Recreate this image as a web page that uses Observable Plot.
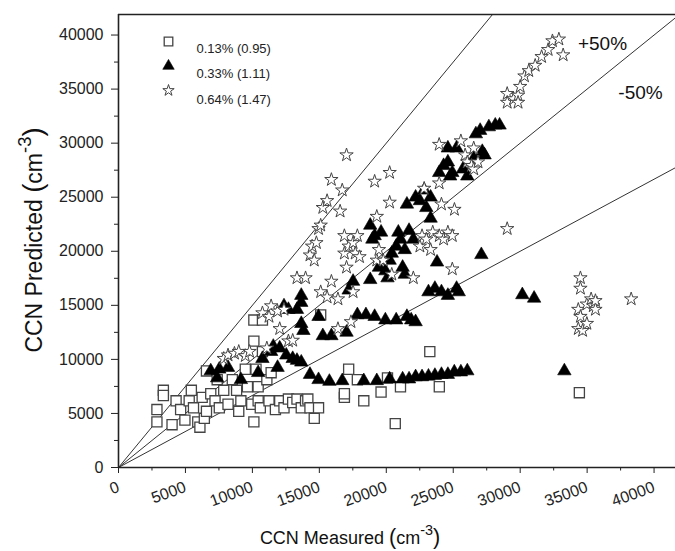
<!DOCTYPE html>
<html><head><meta charset="utf-8">
<script src="https://cdn.jsdelivr.net/npm/d3@7"></script>
<script src="https://cdn.jsdelivr.net/npm/@observablehq/plot@0.6"></script>
<style>body{margin:0;background:#fff;} #chart svg{display:block;}</style>
</head><body><div id="chart"></div>
<script>
// ---- data (CCN measured, CCN predicted) ----
const squares = [[2870,5360],[2870,4220],[3350,7140],[3350,6660],[4000,3960],[4300,6170],[4640,5360],[4960,4380],[5280,6170],[5440,7140],[5600,5520],[5920,4220],[6080,3730],[6250,6490],[6410,4550],[6570,5200],[6890,6820],[6570,8930],[7210,6170],[7370,8120],[7530,5520],[7860,7140],[8180,5850],[8500,8120],[8820,7140],[8980,5200],[9140,6170],[9470,9090],[9630,7470],[9950,5850],[10110,4220],[10110,13640],[10110,11690],[10270,9090],[10430,7470],[10430,6170],[10590,5520],[10750,10720],[10750,13640],[11080,8120],[11240,6170],[11400,8770],[11720,5360],[12040,6170],[12360,5520],[12690,6330],[13010,6010],[13330,6330],[13650,5520],[13970,6170],[14140,6330],[14300,5520],[14620,4550],[14940,5520],[15100,14120],[16870,6490],[16870,6820],[17190,9090],[17840,8120],[18320,6170],[19610,6980],[20090,8280],[20670,4060],[21060,7470],[23250,10720],[23960,7470],[34420,6920]];
const triangles = [[14300,8600],[14940,8120],[15750,7960],[16710,8020],[18320,8020],[19290,8020],[20250,8180],[21220,8180],[21700,8180],[22190,8380],[22670,8380],[23150,8440],[23630,8510],[24120,8600],[24600,8600],[25080,8830],[25570,8830],[26050,8930],[33300,8930],[7370,8280],[6890,8930],[7530,9090],[8180,9250],[9140,8120],[10430,8770],[10750,10070],[11400,10720],[11880,9250],[12040,11040],[12530,10390],[13010,10070],[13650,9740],[13330,9900],[11560,11200],[12360,14940],[12690,14610],[13330,14610],[13650,15260],[13650,13310],[13810,12660],[13650,15910],[14940,13960],[15260,12180],[15900,12180],[17030,12500],[17190,16400],[17520,17210],[17840,14120],[18480,14120],[19130,13960],[19930,13640],[20740,13640],[21540,13960],[21860,13640],[22190,13470],[18800,17370],[18800,22400],[18960,21110],[19130,21430],[19610,21760],[19450,18510],[19930,18180],[20090,17530],[20250,19160],[20410,19810],[20740,20460],[20900,21760],[21060,21110],[21380,20140],[21540,24350],[21220,18510],[21380,17860],[21700,21920],[22020,21110],[22190,25000],[22510,24670],[22830,25650],[22990,24030],[23310,25000],[23310,23050],[23790,18990],[23150,16240],[23630,16560],[24120,16240],[24600,15910],[25250,16560],[25410,16240],[23950,27270],[24280,27920],[24600,28250],[24770,26950],[24930,27270],[24600,29540],[25250,29540],[25730,27600],[26050,26950],[26530,28570],[26690,30850],[27010,31170],[27170,29220],[27340,28900],[27660,31500],[28140,31660],[28460,31660],[27100,19680],[30160,15970],[31040,15650]];
const stars = [[7860,10070],[8180,10390],[8660,10550],[8980,10720],[9470,10330],[9790,10720],[11080,11040],[10750,14290],[11240,13960],[11400,14940],[11880,14450],[12360,14610],[12040,12830],[12690,11690],[13010,11750],[13330,17530],[13970,17530],[14300,19640],[14460,20460],[14620,19160],[14780,20780],[14940,22080],[15100,22400],[15260,24030],[15580,24670],[15900,26620],[16550,23700],[16710,25650],[17030,28900],[15100,16240],[15580,15750],[15900,17210],[16390,15580],[16870,21430],[16870,19810],[17030,18510],[17190,20460],[17520,20780],[17680,19810],[17840,21430],[18000,19480],[17520,16240],[17360,13470],[16390,12830],[19130,26460],[19290,23210],[19290,19160],[19450,20140],[19770,19160],[20250,27270],[20250,24520],[20410,17860],[22020,17530],[22510,20460],[22670,21430],[22990,21110],[23310,20140],[23470,21760],[23960,21430],[24280,21110],[24600,21760],[24930,21430],[22830,25810],[23950,26300],[24120,24350],[25090,23860],[24930,18350],[23950,29870],[25570,30200],[25890,28900],[26050,28250],[26370,27920],[26530,27600],[26850,28250],[26530,29540],[29030,22080],[29030,34580],[29030,33760],[29510,34090],[29840,34420],[29840,33760],[30000,35230],[30320,36200],[30640,36690],[31120,37180],[31600,37990],[32090,38640],[32410,39450],[32890,39610],[33210,38150],[34500,17530],[34500,16560],[34340,14610],[34500,13960],[34340,12830],[34660,12660],[34980,13310],[34980,15100],[35300,15580],[35460,14940],[35620,14610],[35620,15420],[38290,15580]];
const legendLabels = ["0.13% (0.95)", "0.33% (1.11)", "0.64% (1.47)"];
const refSlopes = [1.5, 1, 2/3];
const refLabels = ["+50%", "-50%"];
const xTicks = [0,5000,10000,15000,20000,25000,30000,35000,40000];
const yTicks = [0,5000,10000,15000,20000,25000,30000,35000,40000];
const xMinor = [2500,7500,12500,17500,22500,27500,32500,37500];
const yMinor = [2500,7500,12500,17500,22500,27500,32500,37500];
const xMax = 41600, yMax = 41900;

const sqStyle = {symbol: "square", r: 5.7, fill: "white", stroke: "#444", strokeWidth: 1.3};
const trStyle = {symbol: "triangle", r: 5, fill: "black", stroke: "black", strokeWidth: 0.6};
const stStyle = {symbol: "star", r: 4.2, fill: "white", stroke: "#444", strokeWidth: 1};
const styles = [sqStyle, trStyle, stStyle];

const refLines = refSlopes.map(s => {
  const x2 = Math.min(xMax, yMax / s);
  return {x2, y2: s * x2};
});
const fmt = d => String(d);

const chart = Plot.plot({
  width: 675, height: 551,
  marginLeft: 118, marginTop: 14, marginBottom: 84, marginRight: 0,
  x: {domain: [0, xMax]},
  y: {domain: [0, yMax]},
  style: {fontFamily: "'Liberation Sans', Arial, sans-serif", color: "#111", background: "white", overflow: "visible"},
  marks: [
    Plot.link(refLines, {x1: 0, y1: 0, x2: "x2", y2: "y2", stroke: "#333", strokeWidth: 1}),
    Plot.dot(squares, {x: d => d[0], y: d => d[1], ...sqStyle}),
    Plot.dot(triangles, {x: d => d[0], y: d => d[1], ...trStyle}),
    Plot.dot(stars, {x: d => d[0], y: d => d[1], ...stStyle}),
    Plot.ruleX([0], {stroke: "#222", strokeWidth: 1.6}),
    Plot.ruleY([0, yMax], {stroke: "#222", strokeWidth: 1.6}),
    Plot.axisX(xTicks, {tickSize: 6, tickRotate: -20, tickPadding: 13, fontSize: 16, tickFormat: fmt, label: null, stroke: "#222", fill: "#222"}),
    Plot.axisX(xMinor, {tickSize: 3.5, fill: "none", label: null, stroke: "#222"}),
    Plot.axisY(yTicks, {tickSize: 7, tickPadding: 8, fontSize: 16, tickFormat: fmt, label: null, stroke: "#222", fill: "#222"}),
    Plot.axisY(yMinor, {tickSize: 4, fill: "none", label: null, stroke: "#222"}),
    ...legendLabels.map((lab, i) => Plot.dot([lab], {frameAnchor: "top-left", dx: 50, dy: 27 + i * 24.5, ...styles[i], r: styles[i].r * 0.85})),
    ...legendLabels.map((lab, i) => Plot.text([lab], {frameAnchor: "top-left", dx: 78, dy: 29 + i * 25.5, textAnchor: "start", fontSize: 13, fill: "#222"})),
    Plot.text([refLabels[0]], {frameAnchor: "top-left", dx: 484, dy: 22, textAnchor: "middle", fontSize: 19, fill: "#111"}),
    Plot.text([refLabels[1]], {frameAnchor: "top-left", dx: 522, dy: 71, textAnchor: "middle", fontSize: 19, fill: "#111"})
  ]
});
document.getElementById("chart").appendChild(chart);

// axis titles with superscript
const svg = d3.select(chart);
function title(sel, main, fs) {
  sel.append("tspan").attr("font-size", fs).text(main + " ");
  sel.append("tspan").attr("font-size", fs * 1.2).text("(");
  sel.append("tspan").attr("font-size", fs).text("cm");
  sel.append("tspan").attr("font-size", fs * 0.8).attr("dy", -fs * 0.5).text("-3");
  sel.append("tspan").attr("font-size", fs * 1.2).attr("dy", fs * 0.5).text(")");
}
const xt = svg.append("text").attr("x", 350).attr("y", 544).attr("text-anchor", "middle").attr("fill", "#111");
title(xt, "CCN Measured", 18);
const yt = svg.append("text").attr("transform", "translate(42,240) rotate(-90)").attr("text-anchor", "middle").attr("fill", "#111");
title(yt, "CCN Predicted", 23);
</script></body></html>
